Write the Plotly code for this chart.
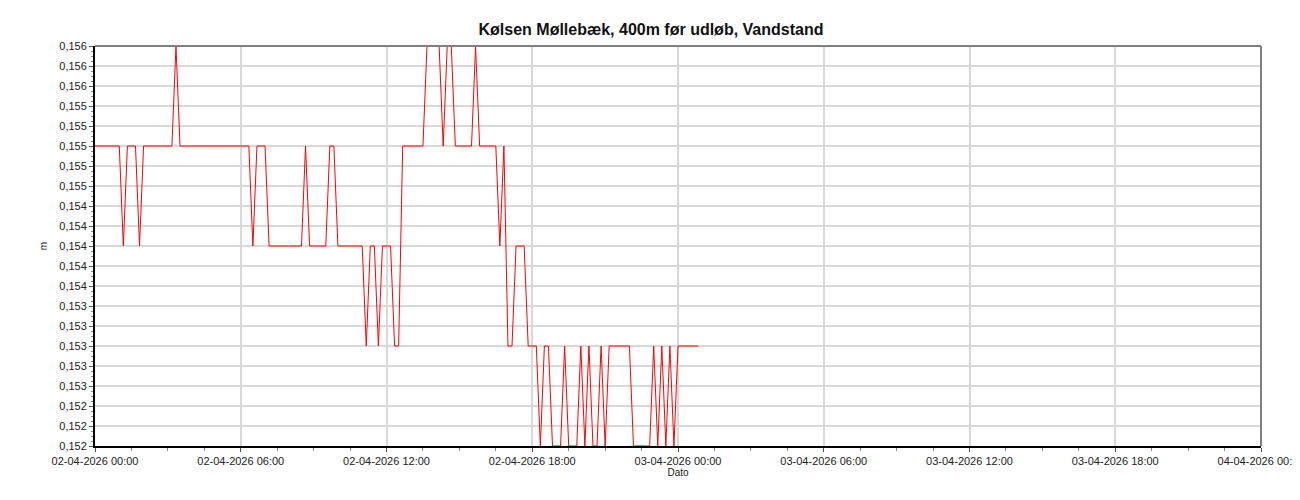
import plotly.graph_objects as go
import pandas as pd

# Vandstand, 10-min målinger fra 02-04-2026 00:00
start_time = "2026-04-02 00:00"
interval = "10min"
vandstand = [
    0.155, 0.155, 0.155, 0.155, 0.155, 0.155, 0.155, 0.154, 0.155, 0.155,
    0.155, 0.154, 0.155, 0.155, 0.155, 0.155, 0.155, 0.155, 0.155, 0.155,
    0.156, 0.155, 0.155, 0.155, 0.155, 0.155, 0.155, 0.155, 0.155, 0.155,
    0.155, 0.155, 0.155, 0.155, 0.155, 0.155, 0.155, 0.155, 0.155, 0.154,
    0.155, 0.155, 0.155, 0.154, 0.154, 0.154, 0.154, 0.154, 0.154, 0.154,
    0.154, 0.154, 0.155, 0.154, 0.154, 0.154, 0.154, 0.154, 0.155, 0.155,
    0.154, 0.154, 0.154, 0.154, 0.154, 0.154, 0.154, 0.153, 0.154, 0.154,
    0.153, 0.154, 0.154, 0.154, 0.153, 0.153, 0.155, 0.155, 0.155, 0.155,
    0.155, 0.155, 0.156, 0.156, 0.156, 0.156, 0.155, 0.156, 0.156, 0.155,
    0.155, 0.155, 0.155, 0.155, 0.156, 0.155, 0.155, 0.155, 0.155, 0.155,
    0.154, 0.155, 0.153, 0.153, 0.154, 0.154, 0.154, 0.153, 0.153, 0.153,
    0.152, 0.153, 0.153, 0.152, 0.152, 0.152, 0.153, 0.152, 0.152, 0.152,
    0.153, 0.152, 0.153, 0.152, 0.152, 0.153, 0.152, 0.153, 0.153, 0.153,
    0.153, 0.153, 0.153, 0.152, 0.152, 0.152, 0.152, 0.152, 0.153, 0.152,
    0.153, 0.152, 0.153, 0.152, 0.153, 0.153, 0.153, 0.153, 0.153, 0.153,
]
x_range = ["2026-04-02 00:00", "2026-04-04 00:00"]
y_range = [0.152, 0.156]

tider = pd.date_range(start_time, periods=len(vandstand), freq=interval)

fig = go.Figure()
fig.add_trace(go.Scatter(
    x=tider, y=vandstand, mode="lines",
    line=dict(color="#ff0000", width=1),
    name="Vandstand",
))

font = "Liberation Sans, Arial, sans-serif"

# siden har 8px body-margin, så figuren gøres 8px mindre
fig.update_layout(
    width=1292, height=492,
    margin=dict(l=87, r=39, t=38, b=54, autoexpand=False),
    paper_bgcolor="white", plot_bgcolor="white",
    showlegend=False,
    separators=",.",
    font=dict(family=font, size=11, color="#222"),
    title=dict(
        text="<b>Kølsen Møllebæk, 400m før udløb, Vandstand</b>",
        x=643 / 1292, xref="container", xanchor="center",
        y=1 - 21 / 492, yref="container", yanchor="middle",
        font=dict(family=font, size=16, color="#111"),
    ),
)

fig.update_xaxes(
    range=x_range, type="date",
    tickformat="%d-%m-%Y %H:%M", dtick=6 * 3600 * 1000,
    tick0="2026-04-02 00:00",
    ticklabeloverflow="allow", automargin=False,
    showgrid=True, gridcolor="#d9d9d9", gridwidth=2,
    showline=True, linecolor="black", linewidth=2,
    ticks="outside", ticklen=4, tickcolor="#555",
    minor=dict(dtick=1.5 * 3600 * 1000, ticks="outside", ticklen=3,
               tickcolor="#888", showgrid=False),
    tickfont=dict(size=11, color="#222"),
    title=dict(text="Dato", font=dict(size=10, color="#222"), standoff=2),
    zeroline=False,
)

fig.update_yaxes(
    range=y_range, dtick=0.0002, tick0=0.152, tickformat=".3f",
    automargin=False,
    showgrid=True, gridcolor="#d9d9d9", gridwidth=2,
    showline=True, linecolor="black", linewidth=2,
    ticks="outside", ticklen=4, tickcolor="#555",
    minor=dict(dtick=0.00005, ticks="outside", ticklen=2,
               tickcolor="#888", showgrid=False),
    tickfont=dict(size=11, color="#222"),
    title=dict(text="m", font=dict(size=10, color="#222"), standoff=10),
    zeroline=False,
)

# grå kant øverst og til højre
fig.add_shape(type="line", xref="paper", yref="paper", x0=0, x1=1, y0=1, y1=1,
              line=dict(color="#808080", width=2))
fig.add_shape(type="line", xref="paper", yref="paper", x0=1, x1=1, y0=0, y1=1,
              line=dict(color="#808080", width=2))

fig.write_html("out.html")
